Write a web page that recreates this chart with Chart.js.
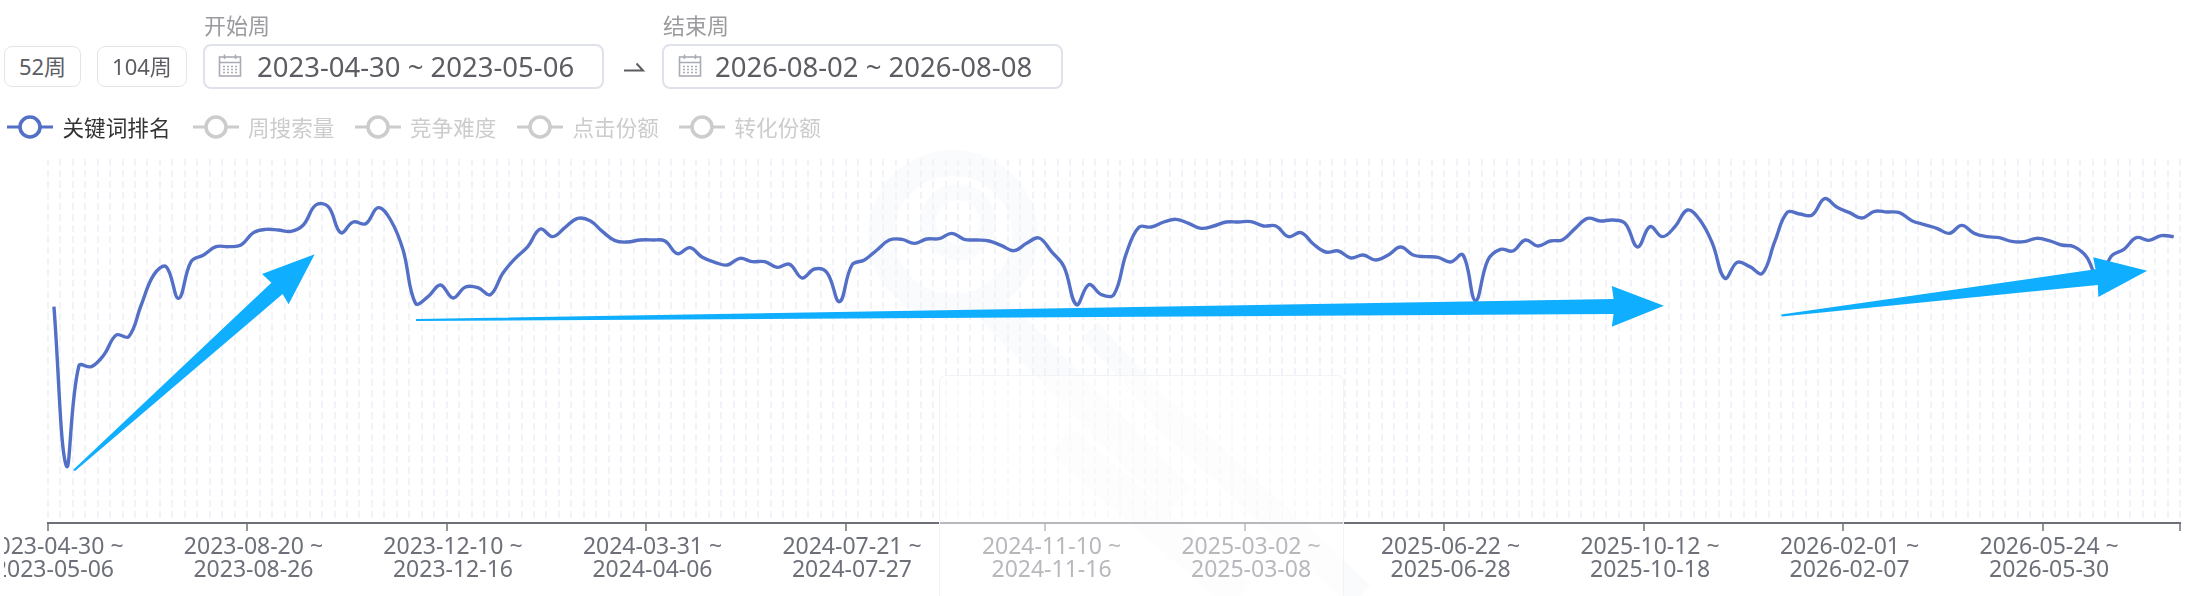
<!DOCTYPE html>
<html lang="zh">
<head>
<meta charset="utf-8">
<title>关键词排名</title>
<script src="https://cdn.jsdelivr.net/npm/chart.js@4/dist/chart.umd.min.js"></script>
<style>
  html, body { margin: 0; padding: 0; background: #fff; }
  body { width: 2188px; height: 596px; position: relative; overflow: hidden; font-family: "Noto Sans", "Noto Sans CJK SC", sans-serif; }
  .abs { position: absolute; white-space: nowrap; }
  .btn { top: 46px; height: 39px; border: 1.5px solid #e2e4ea; border-radius: 8px; background: #fff; font-size: 22px; line-height: 39px; text-align: center; color: #5c5c63; }
  .range { top: 44px; height: 41px; border: 2px solid #dfe2ea; border-radius: 8px; background: #fff; }
  .range span { position: absolute; top: 0; font-size: 27.5px; line-height: 41px; color: #5c5c63; }
  .cap { top: 10px; font-size: 22px; line-height: 30px; color: #9b9b9f; }
  .leg { top: 112px; font-size: 21.6px; line-height: 32px; color: #ccc; }
  #wrap { position: absolute; left: 0; top: 0; width: 2188px; height: 596px; clip-path: inset(0 0 0 4px); }
  #fade { position: absolute; left: 939px; top: 375px; width: 405px; height: 230px; box-sizing: border-box; background: rgba(255,255,255,0.5); border: 1px solid #f2f3f7; border-radius: 7px; }
  svg { position: absolute; left: 0; top: 0; }
</style>
</head>
<body>
<svg width="2188" height="596">
  <g fill="none" stroke="#fafbfd">
    <circle cx="953" cy="235" r="72" stroke-width="26"/>
    <circle cx="958" cy="222" r="30" stroke-width="16"/>
    <path d="M985 300 L1180 500" stroke-width="34"/>
    <path d="M1090 330 L1190 440" stroke-width="22"/>
    <path d="M1060 440 L1240 596" stroke-width="34"/>
    <path d="M1160 410 L1360 596" stroke-width="30"/>
  </g>
</svg>

<div id="wrap"><canvas id="rankChart" width="2188" height="596"></canvas></div>
<div id="fade"></div>

<!-- trend arrows drawn on the screenshot -->
<svg width="2188" height="596">
  <g fill="#10aeff">
    <polygon points="73,470 271.4,282.7 262,274 314.7,254.3 288.6,304.3 282.6,294 75,471"/>
    <polygon points="416,319 1613.6,299 1611.8,286 1663.9,305.7 1611.8,326.7 1613.6,314 416,321"/>
    <polygon points="1781,314.5 2095.5,269.3 2093.2,257.3 2147.2,270.7 2098.3,297 2097.8,285 1782,316.5"/>
  </g>
</svg>

<div class="abs btn" style="left:4px;width:75px">52周</div>
<div class="abs btn" style="left:97px;width:88px">104周</div>

<div class="abs cap" style="left:204px">开始周</div>
<div class="abs range" style="left:203px;width:397px">
  <svg width="40" height="41" style="left:11px;top:0"><use href="#cal"/></svg>
  <span style="left:52px" id="startText"></span>
</div>
<svg width="30" height="30" style="left:620px;top:50px"><path d="M4 20.5 H23 L16.5 13.5" fill="none" stroke="#5c5c63" stroke-width="2"/></svg>
<div class="abs cap" style="left:663px">结束周</div>
<div class="abs range" style="left:662px;width:397px">
  <svg width="40" height="41" style="left:12px;top:0"><use href="#cal"/></svg>
  <span style="left:51px" id="endText"></span>
</div>

<svg width="0" height="0">
  <defs>
    <g id="cal" fill="none" stroke="#a9abb5" stroke-width="1.6">
      <rect x="3.5" y="11" width="21" height="19"/>
      <path d="M3.5 16.5 H24.5 M8.5 8.5 V13 M19.5 8.5 V13"/>
      <path d="M7 20.5 H21 M7 23.5 H21 M7 26.5 H21" stroke-dasharray="2 2"/>
    </g>
  </defs>
</svg>

<div id="legend"></div>

<script>
const legendNames = ["关键词排名", "周搜索量", "竞争难度", "点击份额", "转化份额"];
const startRange = "2023-04-30 ~ 2023-05-06";
const endRange = "2026-08-02 ~ 2026-08-08";
const firstWeek = "2023-04-30";
const weekCount = 171;
const tickEvery = 16;

// estimated rank per week (the axis is hidden and inverted)
const rankValues = [
  47.0, 94.8, 64.8, 65.0, 61.5, 55.5, 56.0, 46.5, 37.5, 35.0,
  44.5, 33.5, 31.5, 29.0, 29.0, 28.5, 24.8, 23.8, 24.0, 24.4,
  22.5, 16.5, 17.0, 24.8, 21.6, 22.1, 17.3, 21.0, 30.0, 46.0,
  44.0, 40.5, 44.4, 41.1, 41.3, 43.4, 37.0, 32.5, 29.0, 23.7,
  26.0, 23.2, 20.5, 21.2, 24.5, 27.2, 27.6, 27.0, 27.0, 27.3,
  31.1, 29.3, 32.2, 33.7, 34.5, 32.5, 33.5, 33.5, 35.2, 34.3,
  38.4, 35.7, 36.8, 45.5, 34.5, 33.0, 30.0, 27.0, 26.8, 28.0,
  26.7, 26.6, 25.0, 26.8, 27.0, 27.3, 28.7, 30.2, 28.0, 26.4,
  30.5, 35.0, 46.4, 40.4, 43.4, 43.4, 31.0, 23.2, 23.1, 21.6,
  20.8, 22.0, 23.5, 22.8, 21.6, 21.6, 21.5, 22.8, 22.8, 26.0,
  24.8, 28.2, 30.6, 30.3, 32.4, 31.5, 33.0, 31.5, 29.1, 31.5,
  32.0, 32.2, 33.6, 31.5, 45.2, 33.0, 29.8, 30.3, 27.0, 28.8,
  27.3, 26.9, 23.5, 20.5, 21.3, 21.0, 22.0, 29.1, 23.0, 26.0,
  23.0, 18.0, 21.0, 28.0, 38.5, 33.7, 35.0, 37.0, 27.5, 18.7,
  19.2, 19.5, 14.6, 17.2, 18.8, 20.4, 18.4, 18.6, 18.8, 21.2,
  22.4, 23.5, 25.0, 22.6, 25.0, 26.0, 26.3, 27.4, 27.5, 26.5,
  27.2, 28.5, 29.0, 32.0, 39.0, 31.8, 29.8, 26.3, 27.1, 25.7,
  26.0
];

// week labels, one per category, start ~ end
const weekLabels = [];
for (let i = 0; i < weekCount; i++) {
  const from = new Date(Date.parse(firstWeek + "T00:00:00Z") + i * 7 * 86400000);
  const to = new Date(from.getTime() + 6 * 86400000);
  weekLabels.push([from.toISOString().slice(0, 10) + " ~", to.toISOString().slice(0, 10)]);
}

document.getElementById("startText").textContent = startRange;
document.getElementById("endText").textContent = endRange;

// legend, only the first series is switched on
const legendSpots = [7, 192.5, 354.5, 517, 679];
const legendBox = document.getElementById("legend");
legendNames.forEach((name, i) => {
  const on = i === 0;
  const color = on ? "#5470c6" : "#ccc";
  const x = legendSpots[i];
  legendBox.insertAdjacentHTML("beforeend",
    `<svg width="50" height="30" style="left:${x}px;top:112px">
       <path d="M0 15 H46" stroke="${color}" stroke-width="3.2"/>
       <circle cx="23" cy="15" r="10" fill="#fff" stroke="${color}" stroke-width="3.6"/>
     </svg>
     <div class="abs leg" style="left:${x + 55.5}px;color:${on ? "#333" : "#ccc"}">${name}</div>`);
});

const ctx = document.getElementById("rankChart").getContext("2d");
new Chart(ctx, {
  type: "line",
  data: {
    labels: weekLabels,
    datasets: [{
      label: legendNames[0],
      data: rankValues,
      borderColor: "#5470c6",
      borderWidth: 3.4,
      pointRadius: 0,
      tension: 0.4,
      fill: false,
    }],
  },
  options: {
    responsive: false,
    animation: false,
    layout: {
      autoPadding: false,
      padding: { left: 47.7, right: 8, top: 159, bottom: 0 },
    },
    plugins: { legend: { display: false }, tooltip: { enabled: false } },
    scales: {
      x: {
        offset: true,
        afterFit: (scale) => {
          scale.height = 73;
          // the first label runs off the page, do not let it push the plot in
          scale.paddingLeft = 0;
          scale.paddingRight = 0;
        },
        border: { color: "#6e7079", width: 2, dash: [7, 4] },
        grid: {
          offset: true,
          color: "#f1f3f8",
          lineWidth: 2,
          tickLength: 8,
          tickWidth: 1.5,
          tickBorderDash: [],
          tickColor: (c) => (c.index === undefined || c.index % tickEvery === 0 ? "#6e7079" : "rgba(0,0,0,0)"),
        },
        ticks: {
          autoSkip: false,
          maxRotation: 0,
          minRotation: 0,
          padding: 5,
          color: "#6e7079",
          font: { family: '"Noto Sans", sans-serif', size: 23, lineHeight: 1 },
          callback: function (value, index) {
            return index % tickEvery === 0 ? this.getLabelForValue(value) : "";
          },
        },
      },
      y: { display: false, reverse: true, min: 2.7, max: 111.9 },
    },
  },
});
</script>
</body>
</html>
